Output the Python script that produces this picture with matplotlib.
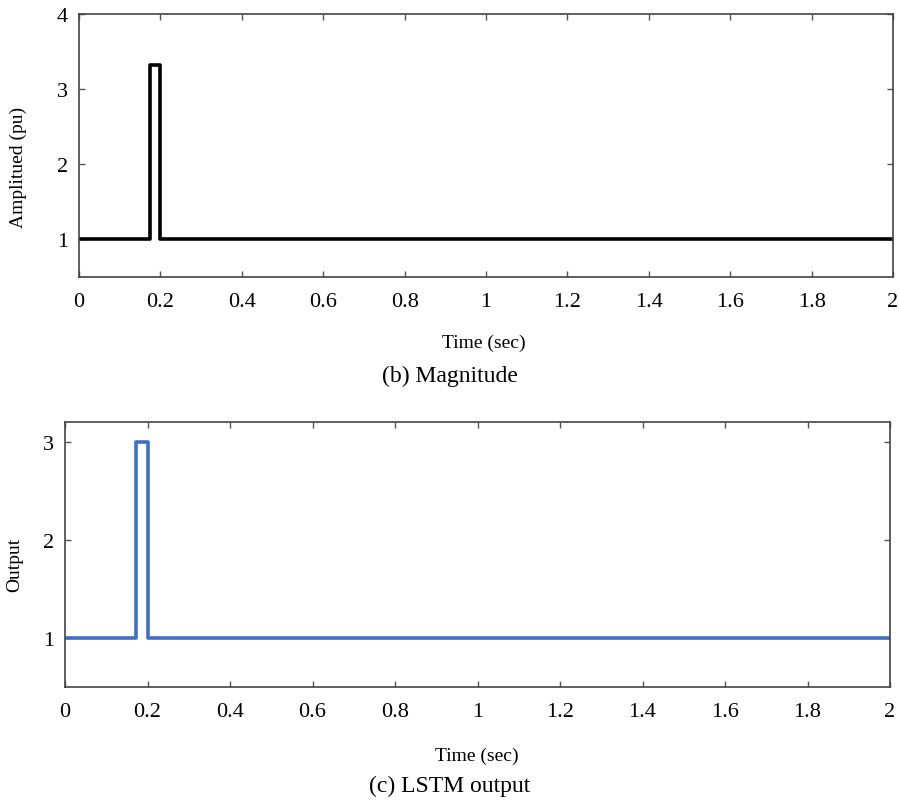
import matplotlib
matplotlib.use("Agg")
import matplotlib.pyplot as plt

# Data (step signals)
t_mag = [0.0, 0.175, 0.175, 0.200, 0.200, 2.0]
v_mag = [1.0, 1.0, 3.32, 3.32, 1.0, 1.0]

t_lstm = [0.0, 0.173, 0.173, 0.200, 0.200, 2.0]
v_lstm = [1.0, 1.0, 3.0, 3.0, 1.0, 1.0]

xticks = [0, 0.2, 0.4, 0.6, 0.8, 1, 1.2, 1.4, 1.6, 1.8, 2]
xtick_labels = ["0", "0.2", "0.4", "0.6", "0.8", "1", "1.2", "1.4", "1.6", "1.8", "2"]
yticks_top = [1, 2, 3, 4]
yticks_bot = [1, 2, 3]

plt.rcParams['font.family'] = ['Liberation Serif', 'DejaVu Serif']

W, H = 899, 803
fig = plt.figure(figsize=(W / 100, H / 100), dpi=100)


def px_axes(x0, y0, x1, y1):
    return fig.add_axes([x0 / W, 1 - y1 / H, (x1 - x0) / W, (y1 - y0) / H])


def style(ax):
    for s in ax.spines.values():
        s.set_color('#444444')
        s.set_linewidth(1.2)
    ax.tick_params(direction='in', length=4, width=1, color='#555555',
                   top=True, right=True, labelsize=16)
    ax.tick_params(axis='x', pad=11)
    ax.tick_params(axis='y', pad=8)
    ax.set_xlim(0, 2)
    ax.set_xticks(xticks)
    ax.set_xticklabels(xtick_labels)


ax1 = px_axes(79, 15, 893, 278)
ax1.plot(t_mag, v_mag, color='black', lw=2.6)
style(ax1)
ax1.set_ylim(0.5, 4)
ax1.set_yticks(yticks_top)

ax2 = px_axes(65, 423, 890, 688)
ax2.plot(t_lstm, v_lstm, color='#3e6fc4', lw=2.6)
style(ax2)
ax2.set_ylim(0.5, 3.2)
ax2.set_yticks(yticks_bot)

fig.text(18 / W, 1 - 167 / H, "Amplitued (pu)", rotation=90, ha='center', va='center', fontsize=14)
fig.text(484 / W, 1 - 343 / H, "Time (sec)", ha='center', va='center', fontsize=14)
fig.text(450 / W, 1 - 376 / H, "(b) Magnitude", ha='center', va='center', fontsize=17)

fig.text(15 / W, 1 - 565 / H, "Output", rotation=90, ha='center', va='center', fontsize=14)
fig.text(477 / W, 1 - 756 / H, "Time (sec)", ha='center', va='center', fontsize=14)
fig.text(450 / W, 1 - 786 / H, "(c) LSTM output", ha='center', va='center', fontsize=17)

fig.savefig("out.png", dpi=100, facecolor='white')
